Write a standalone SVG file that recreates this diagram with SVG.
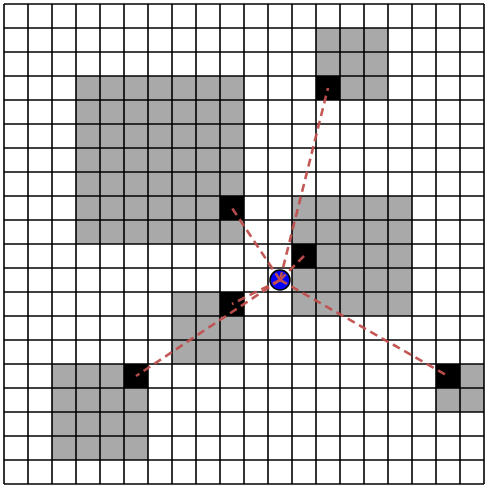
<svg xmlns="http://www.w3.org/2000/svg" width="488" height="489" viewBox="0 0 488 489">
<style>
.g{fill:#a9a9a9}
.b{fill:#000}
.grid line{stroke:#000;stroke-width:1.6}
.ray{stroke:#c0504d;stroke-width:2.6;stroke-dasharray:8 5;fill:none;opacity:0.95}
</style>
<rect x="0" y="0" width="488" height="489" fill="#fff"/>
<g id="obstacle-top-right">
<rect class="g" x="316" y="28" width="72" height="72"/>
<rect class="b" x="316" y="76" width="24" height="24"/>
</g>
<g id="obstacle-large">
<rect class="g" x="76" y="76" width="168" height="168"/>
<rect class="b" x="220" y="196" width="24" height="24"/>
</g>
<g id="obstacle-right">
<rect class="g" x="292" y="196" width="120" height="120"/>
<rect class="b" x="292" y="244" width="24" height="24"/>
</g>
<g id="obstacle-middle">
<rect class="g" x="172" y="292" width="72" height="72"/>
<rect class="b" x="220" y="292" width="24" height="24"/>
</g>
<g id="obstacle-bottom-left">
<rect class="g" x="52" y="364" width="96" height="96"/>
<rect class="b" x="124" y="364" width="24" height="24"/>
</g>
<g id="obstacle-edge">
<rect class="g" x="436" y="364" width="48" height="48"/>
<rect class="b" x="436" y="364" width="24" height="24"/>
</g>
<g class="grid" id="grid">
<line x1="4" y1="4" x2="4" y2="484"/><line x1="28" y1="4" x2="28" y2="484"/><line x1="52" y1="4" x2="52" y2="484"/><line x1="76" y1="4" x2="76" y2="484"/><line x1="100" y1="4" x2="100" y2="484"/><line x1="124" y1="4" x2="124" y2="484"/><line x1="148" y1="4" x2="148" y2="484"/><line x1="172" y1="4" x2="172" y2="484"/><line x1="196" y1="4" x2="196" y2="484"/><line x1="220" y1="4" x2="220" y2="484"/><line x1="244" y1="4" x2="244" y2="484"/><line x1="268" y1="4" x2="268" y2="484"/><line x1="292" y1="4" x2="292" y2="484"/><line x1="316" y1="4" x2="316" y2="484"/><line x1="340" y1="4" x2="340" y2="484"/><line x1="364" y1="4" x2="364" y2="484"/><line x1="388" y1="4" x2="388" y2="484"/><line x1="412" y1="4" x2="412" y2="484"/><line x1="436" y1="4" x2="436" y2="484"/><line x1="460" y1="4" x2="460" y2="484"/><line x1="484" y1="4" x2="484" y2="484"/>
<line x1="4" y1="4" x2="484" y2="4"/><line x1="4" y1="28" x2="484" y2="28"/><line x1="4" y1="52" x2="484" y2="52"/><line x1="4" y1="76" x2="484" y2="76"/><line x1="4" y1="100" x2="484" y2="100"/><line x1="4" y1="124" x2="484" y2="124"/><line x1="4" y1="148" x2="484" y2="148"/><line x1="4" y1="172" x2="484" y2="172"/><line x1="4" y1="196" x2="484" y2="196"/><line x1="4" y1="220" x2="484" y2="220"/><line x1="4" y1="244" x2="484" y2="244"/><line x1="4" y1="268" x2="484" y2="268"/><line x1="4" y1="292" x2="484" y2="292"/><line x1="4" y1="316" x2="484" y2="316"/><line x1="4" y1="340" x2="484" y2="340"/><line x1="4" y1="364" x2="484" y2="364"/><line x1="4" y1="388" x2="484" y2="388"/><line x1="4" y1="412" x2="484" y2="412"/><line x1="4" y1="436" x2="484" y2="436"/><line x1="4" y1="460" x2="484" y2="460"/><line x1="4" y1="484" x2="484" y2="484"/>
</g>
<g id="viewer">
<circle cx="280" cy="280" r="10" fill="#0000ff" stroke="#000" stroke-width="1.5"/>
</g>
<g id="connectors">
<line class="ray" x1="280" y1="280" x2="328" y2="88"/>
<line class="ray" x1="280" y1="280" x2="232" y2="208"/>
<line class="ray" x1="280" y1="280" x2="304" y2="256"/>
<line class="ray" x1="280" y1="280" x2="232" y2="304"/>
<line class="ray" x1="280" y1="280" x2="136" y2="376"/>
<line class="ray" x1="280" y1="280" x2="448" y2="376"/>
</g>
</svg>
